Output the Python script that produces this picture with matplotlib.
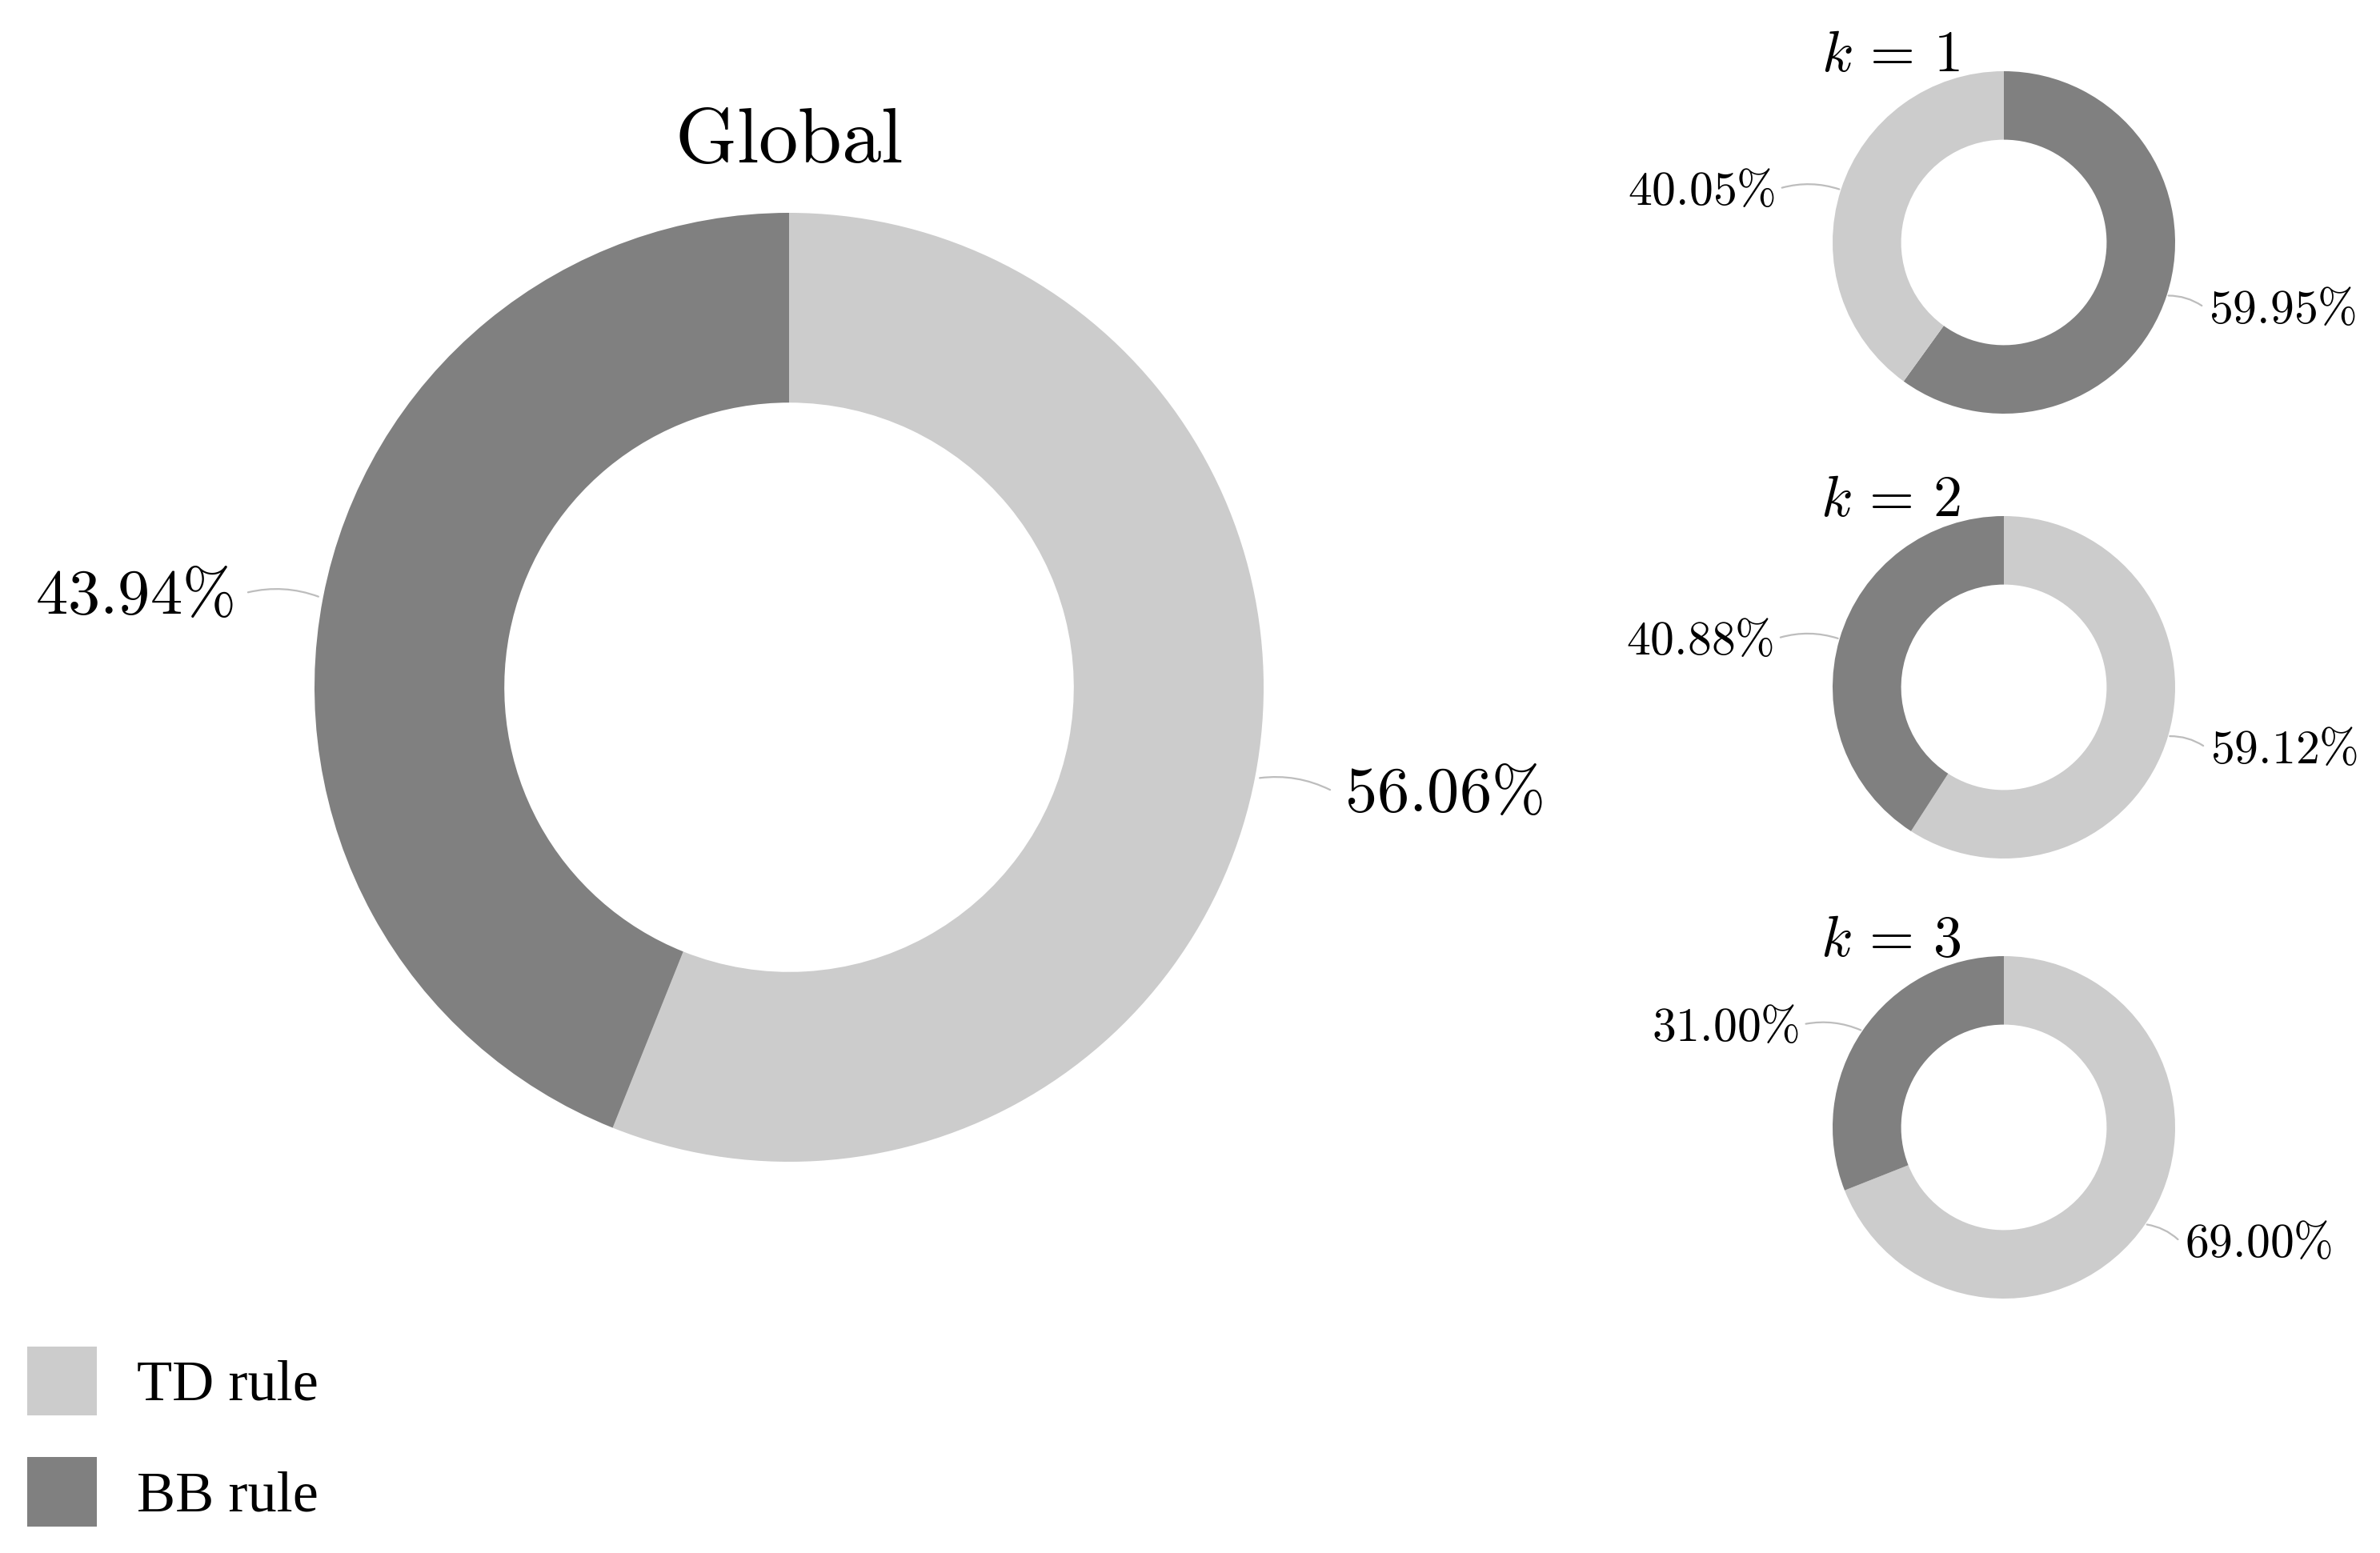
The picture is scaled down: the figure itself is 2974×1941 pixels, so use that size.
import numpy as np
import matplotlib.pyplot as plt
from matplotlib.patches import Patch

plt.rcParams['mathtext.fontset'] = 'cm'

# data
rules = ['TD rule', 'BB rule']
colors = ['#cccccc', '#808080']
global_vals = [56.06, 43.94]          # TD, BB
k_titles = [r'$k\,=\,1$', r'$k\,=\,2$', r'$k\,=\,3$']
k_td = [40.05, 59.12, 69.00]
k_bb = [59.95, 40.88, 31.00]
k_td_first = [False, True, True]       # drawing order clockwise from top

W, H = 2974, 1941
fig = plt.figure(figsize=(W / 100, H / 100), dpi=100)


def add_ax(cx, cy, r):
    return fig.add_axes([(cx - r) / W, (H - cy - r) / H, 2 * r / W, 2 * r / H])


def donut(ax, vals, cols, fs, r1, len_l, len_r, gap, dy):
    wedges, _ = ax.pie(vals, colors=cols, startangle=90, counterclock=False,
                       radius=1, wedgeprops=dict(width=0.4, linewidth=0))
    for w, v in zip(wedges, vals):
        w.set_clip_on(False)
        ang = np.deg2rad((w.theta1 + w.theta2) / 2)
        c, s = np.cos(ang), np.sin(ang)
        side = 1 if c >= 0 else -1
        x2 = r1 * c + (len_r if side > 0 else -len_l)
        y2 = r1 * s - dy
        ax.annotate('', xy=(1.01 * c, 1.01 * s), xytext=(x2, y2),
                    arrowprops=dict(arrowstyle='-', color='#bdbdbd', lw=1.6,
                                    shrinkA=0, shrinkB=0,
                                    connectionstyle='arc3,rad=%.2f' % (0.15 * side)))
        ax.text(x2 + side * gap, y2 - dy, r'$%.2f\%%$' % v,
                ha='left' if side > 0 else 'right', va='center', fontsize=fs)
    ax.set_xlim(-1, 1)
    ax.set_ylim(-1, 1)
    ax.axis('off')
    return wedges


# global donut
ax = add_ax(986, 859, 593)
donut(ax, global_vals, colors, 58, 1.1, 0.06, 0.06, 0.03, 0.008)
ax.text(0, 1.107, r'$\mathrm{Global}$', ha='center', va='baseline', fontsize=71)

# k donuts
centers = [303, 859, 1409]
for i in range(3):
    ax = add_ax(2504, centers[i], 214)
    if k_td_first[i]:
        vals, cols = [k_td[i], k_bb[i]], colors
    else:
        vals, cols = [k_bb[i], k_td[i]], colors[::-1]
    donut(ax, vals, cols, 43, 1.12, 0.23, 0.09, 0.04, 0.025)
    ax.text(-0.66, 1.0, k_titles[i], ha='center', va='baseline', fontsize=52)

handles = [Patch(facecolor=c, edgecolor='none') for c in colors]
fig.legend(handles, rules, loc='lower left', bbox_to_anchor=(34 / W, (H - 1908) / H),
           frameon=False, borderpad=0, borderaxespad=0, handlelength=1.2,
           handleheight=1.47, handletextpad=0.7, labelspacing=0.72,
           prop={'family': 'Liberation Serif', 'size': 52})

fig.savefig('out.png', dpi=100)
